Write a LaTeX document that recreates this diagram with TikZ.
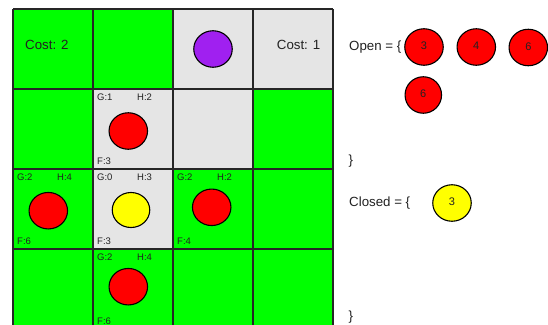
\documentclass[tikz,border=0pt]{standalone}
\usepackage{fontspec}
\setmainfont{Liberation Sans}
\usetikzlibrary{shapes.geometric}
\definecolor{cellgreen}{RGB}{0,255,0}
\definecolor{cellgray}{RGB}{229,229,229}
\definecolor{dotred}{RGB}{255,0,0}
\definecolor{dotyellow}{RGB}{255,255,0}
\definecolor{dotpurple}{RGB}{160,32,240}
\definecolor{txt}{RGB}{34,34,34}
\tikzset{
  gridline/.style={draw=black!85, line width=1.6pt},
  dot/.style={ellipse, draw=black, line width=1.1pt, minimum width=38.5pt, minimum height=36.5pt, inner sep=0pt},
  small/.style={font=\fontsize{9.5}{10}\selectfont, text=txt, inner sep=0pt, anchor=base west},
  big/.style={font=\fontsize{13.3}{14}\selectfont, text=txt, inner sep=0pt, anchor=base west},
  num/.style={font=\fontsize{11}{12}\selectfont, text=txt, inner sep=0pt},
}
\begin{document}
\begin{tikzpicture}[x=1pt,y=-1pt]
\useasboundingbox (0,0) rectangle (548,324);
\begin{scope}
\clip (0,0) rectangle (548,324);
% cells
\foreach \c/\r/\col in {0/0/cellgreen,1/0/cellgreen,2/0/cellgray,3/0/cellgray,
  0/1/cellgreen,1/1/cellgray,2/1/cellgray,3/1/cellgreen,
  0/2/cellgreen,1/2/cellgray,2/2/cellgreen,3/2/cellgreen,
  0/3/cellgreen,1/3/cellgreen,2/3/cellgreen,3/3/cellgreen}
  \fill[\col] ({13+80*\c},{9+80*\r}) rectangle ++(80,80);
\foreach \i in {0,...,4} {
  \draw[gridline] ({13+80*\i},9) -- ({13+80*\i},329);
  \draw[gridline] (13,{9+80*\i}) -- (333,{9+80*\i});
}
% cell texts
\node[big] (cost2) at (25,49.3) {Cost: 2};
\node[big] (cost1) at (276.7,49.3) {Cost: 1};
% purple
\node[dot, fill=dotpurple] (p) at (213,49) {};
% cell (1,1)
\node[small] (g11) at (97,100) {G:1};
\node[small] (h11) at (137,100) {H:2};
\node[small] (f11) at (97,164) {F:3};
\node[dot, fill=dotred] (r11) at (128.3,131) {};
% cell (0,2)
\node[small] (g02) at (17,180) {G:2};
\node[small] (h02) at (57,180) {H:4};
\node[small] (f02) at (17,244) {F:6};
\node[dot, fill=dotred] (r02) at (48.3,210.7) {};
% cell (1,2)
\node[small] (g12) at (97,180) {G:0};
\node[small] (h12) at (137,180) {H:3};
\node[small] (f12) at (97,244) {F:3};
\node[dot, fill=dotyellow, minimum width=37.5pt, minimum height=35pt] (y12) at (131,210) {};
% cell (2,2)
\node[small] (g22) at (177,180) {G:2};
\node[small] (h22) at (217,180) {H:2};
\node[small] (f22) at (177,244) {F:4};
\node[dot, fill=dotred] (r22) at (211.7,207.3) {};
% cell (1,3)
\node[small] (g13) at (97,260) {G:2};
\node[small] (h13) at (137,260) {H:4};
\node[small] (f13) at (97,324) {F:6};
\node[dot, fill=dotred] (r13) at (128.3,286.7) {};
% open / closed
\node[big] (open) at (349,50) {Open = \{};
\node[dot, fill=dotred] (o1) at (424,47) {};
\node[num] at ([yshift=1.3]o1.center) {3};
\node[dot, fill=dotred] (o2) at (476.3,47) {};
\node[num] at ([yshift=1.3]o2.center) {4};
\node[dot, fill=dotred] (o3) at (528.3,47.5) {};
\node[num] at ([yshift=1]o3.center) {6};
\node[dot, fill=dotred, minimum width=36.5pt] (o4) at (423.3,95) {};
\node[num] at ([yshift=1]o4.center) {6};
\node[big] (cb1) at (348.5,164) {\}};
\node[big] (closed) at (349,206) {Closed = \{};
\node[dot, fill=dotyellow] (c1) at (452,203) {};
\node[num] at ([yshift=1]c1.center) {3};
\node[big] (cb2) at (348.5,320.5) {\}};
\end{scope}
\end{tikzpicture}
\end{document}
